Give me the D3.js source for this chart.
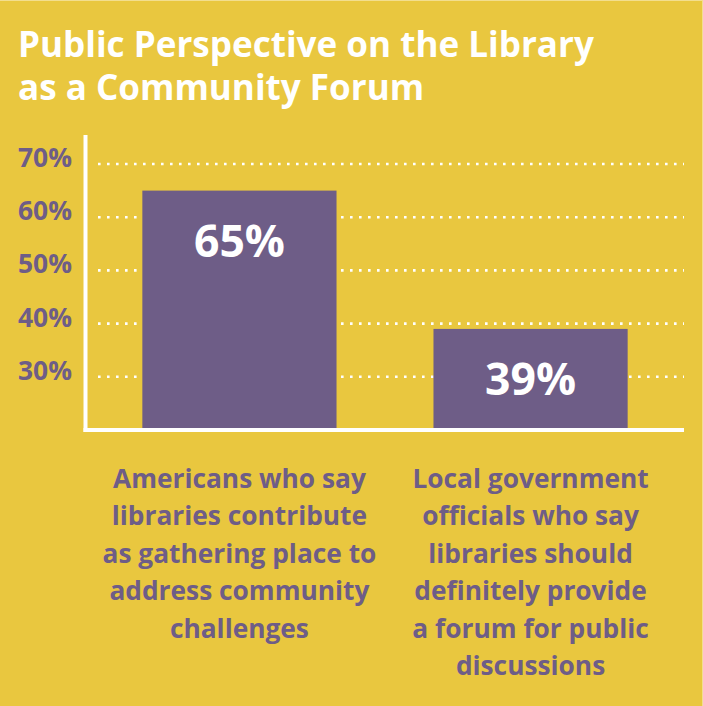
<!DOCTYPE html>
<html>
<head>
<meta charset="utf-8">
<script src="https://cdn.jsdelivr.net/npm/d3@7"></script>
<style>
  html, body { margin: 0; padding: 0; background: #E9C73F; }
  svg { display: block; }
  text { font-family: "Open Sans", "Noto Sans", sans-serif; font-weight: 700; }
</style>
</head>
<body>
<svg id="chart" width="703" height="706"></svg>
<script>
// Chart data
const titleLines = ["Public Perspective on the Library", "as a Community Forum"];
const categories = ["americans", "officials"];
const categoryLabels = [
  ["Americans who say", "libraries contribute", "as gathering place to", "address community", "challenges"],
  ["Local government", "officials who say", "libraries should", "definitely provide", "a forum for public", "discussions"]
];
const values = [65, 39];
const tickValues = [30, 40, 50, 60, 70];
const yDomain = [20, 70];

const W = 703, H = 706;
const bg = "#E9C73F", purple = "#6E5D87", white = "#FFFFFF";

const svg = d3.select("#chart");
svg.append("rect").attr("width", W).attr("height", H).attr("fill", bg);
// faint light edge along the top and right
svg.append("line").attr("x1", 0).attr("x2", W).attr("y1", 0.5).attr("y2", 0.5)
  .attr("stroke", "#F3DE8E").attr("stroke-width", 1);
svg.append("line").attr("x1", W - 0.5).attr("x2", W - 0.5).attr("y1", 0).attr("y2", H)
  .attr("stroke", "#F3DE8E").attr("stroke-width", 1);

// scale text to a target width
function fitWidth(sel, target) {
  const len = sel.node().getComputedTextLength();
  const fs = parseFloat(sel.attr("font-size"));
  sel.attr("font-size", fs * target / len);
}

// Title
const title = svg.append("g");
titleLines.forEach((t, i) => {
  title.append("text").attr("x", 18).attr("y", 57 + i * 43)
    .attr("fill", white).attr("font-size", 32).text(t);
});
const t0 = title.select("text");
fitWidth(t0, 576);
title.selectAll("text").attr("font-size", t0.attr("font-size"));

// Scales
const x = d3.scaleBand().domain(categories).range([85, 685])
  .paddingInner(0.333).paddingOuter(0.197);
const y = d3.scaleLinear().domain(yDomain).range([430, 164]);

// Dotted gridlines
svg.append("g").selectAll("line").data(tickValues).join("line")
  .attr("x1", 98).attr("x2", 684)
  .attr("y1", d => y(d)).attr("y2", d => y(d))
  .attr("stroke", white).attr("stroke-width", 2.6)
  .attr("stroke-dasharray", "2.6 6.4");

// Tick labels
const ticks = svg.append("g").selectAll("text").data(tickValues).join("text")
  .attr("x", 72).attr("y", d => y(d) + 3)
  .attr("text-anchor", "end").attr("fill", purple).attr("font-size", 26)
  .text(d => d + "%");
const ft = ticks.filter(d => d === 70);
fitWidth(ft, 54);
ticks.attr("font-size", ft.attr("font-size"));

// Bars
svg.append("g").selectAll("rect").data(values).join("rect")
  .attr("x", (d, i) => x(categories[i]))
  .attr("width", x.bandwidth())
  .attr("y", d => y(d))
  .attr("height", d => y(yDomain[0]) - y(d))
  .attr("fill", purple);

// Value labels inside bars
const vl = svg.append("g").selectAll("text").data(values).join("text")
  .attr("x", (d, i) => x(categories[i]) + x.bandwidth() / 2)
  .attr("y", d => y(d) + 66)
  .attr("text-anchor", "middle").attr("fill", white).attr("font-size", 44)
  .text(d => d + "%");
fitWidth(vl.filter((d, i) => i === 0), 91);
vl.attr("font-size", vl.filter((d, i) => i === 0).attr("font-size"));

// Axes lines
svg.append("line").attr("x1", 85.5).attr("x2", 85.5).attr("y1", 135).attr("y2", 432)
  .attr("stroke", white).attr("stroke-width", 4);
svg.append("line").attr("x1", 83.5).attr("x2", 684).attr("y1", 430).attr("y2", 430)
  .attr("stroke", white).attr("stroke-width", 4);

// Category labels
const cg = svg.append("g");
categoryLabels.forEach((lines, i) => {
  const cx = x(categories[i]) + x.bandwidth() / 2;
  lines.forEach((ln, j) => {
    cg.append("text").attr("class", "cat")
      .attr("x", cx).attr("y", 488 + j * 37.4)
      .attr("text-anchor", "middle").attr("fill", purple).attr("font-size", 24)
      .text(ln);
  });
});
const widest = cg.selectAll("text.cat").filter(function () { return this.textContent === "as gathering place to"; });
fitWidth(widest, 274);
cg.selectAll("text.cat").attr("font-size", widest.attr("font-size"));
</script>
</body>
</html>
